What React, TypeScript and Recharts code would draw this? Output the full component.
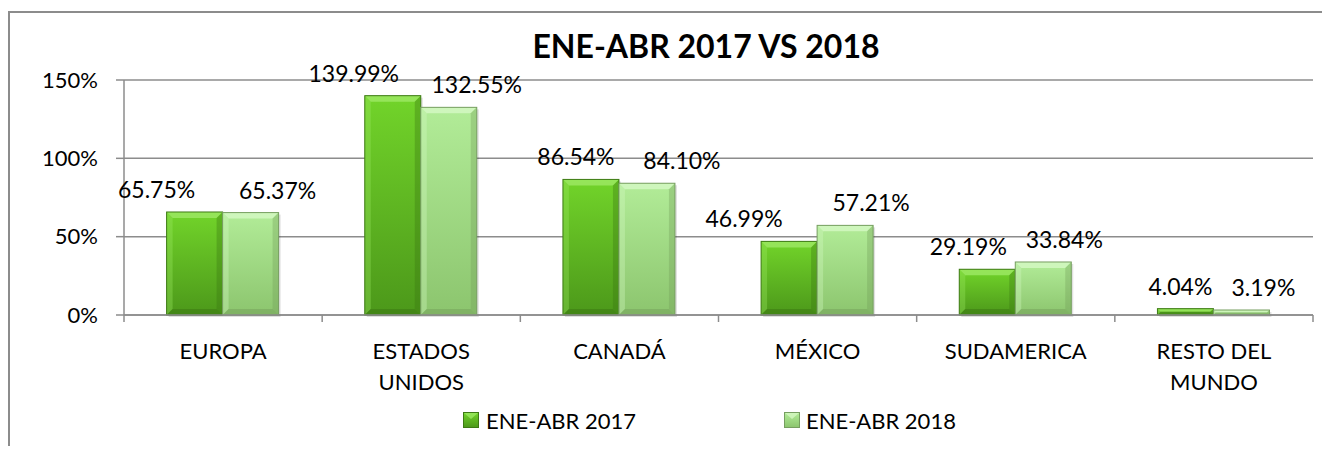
import { BarChart, Bar, XAxis, YAxis, CartesianGrid, LabelList } from "recharts";

const categories = [
  "EUROPA",
  "ESTADOS\nUNIDOS",
  "CANADÁ",
  "MÉXICO",
  "SUDAMERICA",
  "RESTO DEL\nMUNDO",
];
const ene2017 = [65.75, 139.99, 86.54, 46.99, 29.19, 4.04];
const ene2018 = [65.37, 132.55, 84.1, 57.21, 33.84, 3.19];
const yTicks = [0, 50, 100, 150];
const seriesNames = ["ENE-ABR 2017", "ENE-ABR 2018"];
const title = "ENE-ABR 2017 VS 2018";

// hand-placed label offsets (px) like in the original sheet
const labelDx2017 = [-38, -39, -15, -45, -19, -5];
const labelDx2018 = [27, 28, 35, 26, 21, 22];

const data = categories.map((name, i) => ({
  name,
  v2017: ene2017[i],
  v2018: ene2018[i],
}));

const FONT = "Lato, 'Open Sans', sans-serif";
const GRID = "#8c8c8c";
const W = 1310;
const H = 433;
const MARGIN = { top: 67, right: 7, left: 0, bottom: 71 };
const Y_W = 114;
const X_H = 60;
const AXIS_Y = H - MARGIN.bottom - X_H;
const BAND = (W - MARGIN.left - MARGIN.right - Y_W) / categories.length;

const COLORS = {
  v2017: { top: "#72d42a", bottom: "#4c981a", light: "#9be862", dark: "#3a7512", edge: "#3d7a14" },
  v2018: { top: "#b2ec98", bottom: "#8cc56e", light: "#d4f8c2", dark: "#739f5a", edge: "#769e60" },
};

const BevelBar = (props: any) => {
  const { x, y, width, height, dataKey } = props;
  if (!height || height <= 0) return null;
  const c = COLORS[dataKey as "v2017" | "v2018"];
  const b = Math.min(6, width / 2, height / 2);
  const gid = `face-${dataKey}`;
  return (
    <g>
      <defs>
        <linearGradient id={gid} x1="0" y1="0" x2="0" y2="1">
          <stop offset="0%" stopColor={c.top} />
          <stop offset="100%" stopColor={c.bottom} />
        </linearGradient>
      </defs>
      <rect x={x + 2} y={y + 2} width={width} height={height} fill="#000" opacity={0.12} />
      <rect x={x} y={y} width={width} height={height} fill={`url(#${gid})`} />
      <polygon
        points={`${x},${y} ${x + width},${y} ${x + width - b},${y + b} ${x + b},${y + b}`}
        fill={c.light}
        opacity={0.85}
      />
      <polygon
        points={`${x},${y} ${x + b},${y + b} ${x + b},${y + height - b} ${x},${y + height}`}
        fill={c.light}
        opacity={0.35}
      />
      <polygon
        points={`${x + width},${y} ${x + width - b},${y + b} ${x + width - b},${y + height - b} ${x + width},${y + height}`}
        fill={c.dark}
        opacity={0.35}
      />
      <polygon
        points={`${x},${y + height} ${x + b},${y + height - b} ${x + width - b},${y + height - b} ${x + width},${y + height}`}
        fill={c.dark}
        opacity={0.5}
      />
      <rect x={x} y={y} width={width} height={height} fill="none" stroke={c.edge} strokeWidth={1} />
    </g>
  );
};

const makeLabel = (offsets: number[]) => (props: any) => {
  const { x, y, width, value, index } = props;
  return (
    <text
      x={x + width / 2 + offsets[index]}
      y={y - 23}
      textAnchor="middle"
      dominantBaseline="central"
      fontFamily={FONT}
      fontSize={23}
      fill="#000"
    >
      {`${Number(value).toFixed(2)}%`}
    </text>
  );
};

const CategoryTick = (props: any) => {
  const { x, payload, index } = props;
  const lines = String(payload.value).split("\n");
  const left = x - BAND / 2;
  const right = x + BAND / 2;
  return (
    <g>
      <line x1={left} y1={AXIS_Y} x2={left} y2={AXIS_Y + 7} stroke={GRID} strokeWidth={1.5} />
      {index === categories.length - 1 && (
        <line x1={right} y1={AXIS_Y} x2={right} y2={AXIS_Y + 7} stroke={GRID} strokeWidth={1.5} />
      )}
      {lines.map((ln, i) => (
        <text
          key={i}
          x={x}
          y={AXIS_Y + 35 + i * 31}
          textAnchor="middle"
          dominantBaseline="central"
          fontFamily={FONT}
          fontSize={22}
          fill="#000"
        >
          {ln}
        </text>
      ))}
    </g>
  );
};

const LegendIcon = ({ k }: { k: "v2017" | "v2018" }) => {
  const c = COLORS[k];
  return (
    <svg width={16} height={16} style={{ display: "block" }}>
      <defs>
        <linearGradient id={`lg-${k}`} x1="0" y1="0" x2="0" y2="1">
          <stop offset="0%" stopColor={c.top} />
          <stop offset="100%" stopColor={c.bottom} />
        </linearGradient>
      </defs>
      <rect x={0.5} y={0.5} width={15} height={15} fill={`url(#lg-${k})`} stroke={c.edge} />
      <polygon points="1,1 15,1 8,7" fill={c.light} opacity={0.8} />
    </svg>
  );
};

export default function App() {
  return (
    <>
      <style>{"html, body { overflow: hidden; }"}</style>
      <div
        style={{
          position: "absolute",
          left: 8,
          top: 11,
          width: W + 4,
          height: H,
          overflow: "hidden",
          borderLeft: `2px solid ${GRID}`,
          borderTop: `2px solid ${GRID}`,
          fontFamily: FONT,
        }}
      >
        <BarChart
          width={W}
          height={H}
          data={data}
          margin={MARGIN}
          barCategoryGap="21.5%"
          barGap={0}
        >
          <CartesianGrid vertical={false} stroke={GRID} strokeWidth={1.5} />
          <XAxis
            dataKey="name"
            height={X_H}
            interval={0}
            axisLine={{ stroke: GRID, strokeWidth: 1.5 }}
            tickLine={false}
            tick={<CategoryTick />}
          />
          <YAxis
            width={Y_W}
            domain={[0, 150]}
            ticks={yTicks}
            tickFormatter={(v: number) => `${v}%`}
            axisLine={{ stroke: GRID, strokeWidth: 1.5 }}
            tickLine={{ stroke: GRID, strokeWidth: 1.5 }}
            tickSize={8}
            tickMargin={18}
            tick={{ fill: "#000", fontSize: 22, fontFamily: FONT }}
          />
          <Bar dataKey="v2017" name={seriesNames[0]} shape={<BevelBar />} isAnimationActive={false}>
            <LabelList dataKey="v2017" content={makeLabel(labelDx2017)} />
          </Bar>
          <Bar dataKey="v2018" name={seriesNames[1]} shape={<BevelBar />} isAnimationActive={false}>
            <LabelList dataKey="v2018" content={makeLabel(labelDx2018)} />
          </Bar>
        </BarChart>
        <div
          style={{
            position: "absolute",
            left: 396,
            top: 13,
            width: 600,
            height: 40,
            lineHeight: "40px",
            textAlign: "center",
            fontSize: 32,
            fontWeight: 700,
            color: "#000",
          }}
        >
          {title}
        </div>
        <div
          style={{
            position: "absolute",
            left: 453,
            top: 394,
            height: 26,
            display: "flex",
            alignItems: "center",
            fontSize: 22,
            color: "#000",
            whiteSpace: "nowrap",
          }}
        >
          <LegendIcon k="v2017" />
          <span style={{ marginLeft: 7 }}>{seriesNames[0]}</span>
          <span style={{ marginLeft: 148 }}>
            <LegendIcon k="v2018" />
          </span>
          <span style={{ marginLeft: 6 }}>{seriesNames[1]}</span>
        </div>
      </div>
    </>
  );
}
